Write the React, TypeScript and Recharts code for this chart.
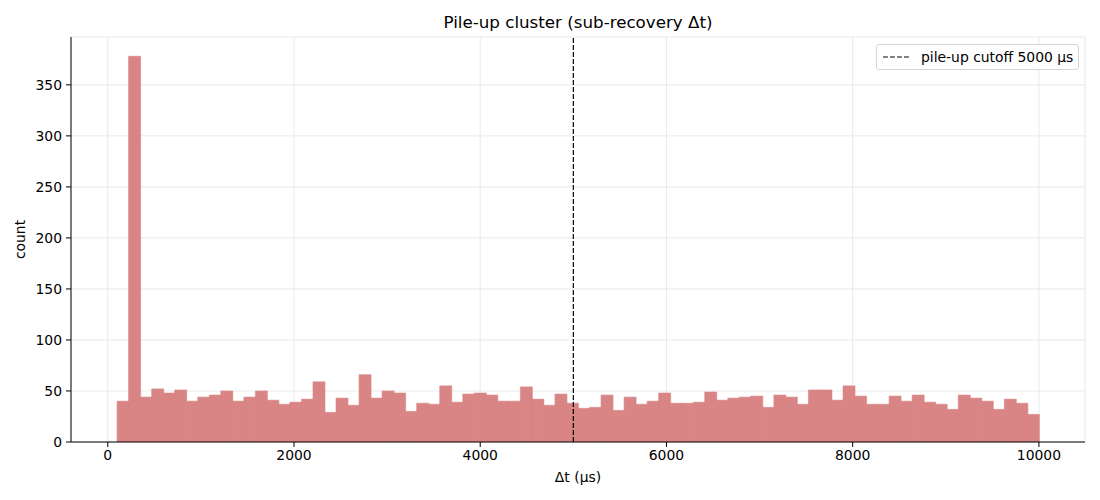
import React from 'react';
import {
  ComposedChart,
  Bar,
  XAxis,
  YAxis,
  CartesianGrid,
  ReferenceLine,
  Legend,
} from 'recharts';

// Histogram bins: 80 bins from 100 µs to 10000 µs
const binStart = 100;
const binWidth = 123.75;

const counts = [
  40, 378, 44, 52, 48, 51, 40, 44, 46, 50,
  40, 44, 50, 41, 37, 39, 42, 59, 29, 43,
  36, 66, 43, 50, 48, 30, 38, 37, 55, 39,
  47, 48, 46, 40, 40, 54, 42, 36, 47, 38,
  33, 34, 46, 31, 44, 37, 40, 48, 38, 38,
  39, 49, 41, 43, 44, 45, 34, 46, 44, 37,
  51, 51, 41, 55, 45, 37, 37, 45, 40, 46,
  39, 37, 32, 46, 43, 40, 32, 42, 38, 27,
];

const xTicks = [0, 2000, 4000, 6000, 8000, 10000];
const yTicks = [0, 50, 100, 150, 200, 250, 300, 350];
const cutoff = 5000;
const legendLabel = 'pile-up cutoff 5000 µs';
const titleText = 'Pile-up cluster (sub-recovery Δt)';

const data = counts.map((c, i) => ({ x: binStart + binWidth * (i + 0.5), count: c }));

const FONT = 'DejaVu Sans, sans-serif';
const FS = 13.9;
const DASH = '4.9 2.1';

const LegendBox = () => (
  <div
    style={{
      border: '1px solid #d6d6d6',
      borderRadius: 3,
      background: 'rgba(255,255,255,0.8)',
      padding: '4px 5px 4px 6px',
      display: 'flex',
      alignItems: 'center',
      fontFamily: FONT,
      fontSize: FS,
      lineHeight: '16px',
      color: '#000',
      whiteSpace: 'nowrap',
    }}
  >
    <svg width={27} height={10} style={{ marginRight: 11 }}>
      <line x1={0} y1={5} x2={27} y2={5} stroke="#000" strokeWidth={1.2} strokeDasharray={DASH} />
    </svg>
    <span>{legendLabel}</span>
  </div>
);

export default function App() {
  return (
    <div style={{ width: 1100, height: 500, position: 'relative', background: '#fff' }}>
      <style>{`body{margin:0}`}</style>
      <div
        style={{
          position: 'absolute',
          top: 12,
          left: 71,
          width: 1014,
          textAlign: 'center',
          fontFamily: FONT,
          fontSize: 16.7,
          lineHeight: '20px',
          color: '#000',
          zIndex: 2,
        }}
      >
        {titleText}
      </div>
      <ComposedChart
        width={1100}
        height={500}
        data={data}
        margin={{ top: 37, right: 15, bottom: 0, left: 0 }}
        barCategoryGap={0}
        barGap={0}
      >
        <CartesianGrid stroke="#e3e3e3" strokeWidth={0.8} />
        <XAxis
          dataKey="x"
          type="number"
          domain={[-395, 10495]}
          ticks={xTicks}
          allowDataOverflow
          height={58}
          tickSize={5}
          tickMargin={3}
          axisLine={{ stroke: '#000', strokeWidth: 1 }}
          tickLine={{ stroke: '#000' }}
          tick={{ fill: '#000', fontSize: FS, fontFamily: FONT }}
          label={{
            value: 'Δt (µs)',
            position: 'insideBottom',
            offset: 18,
            fill: '#000',
            fontSize: FS,
            fontFamily: FONT,
          }}
        />
        <YAxis
          type="number"
          domain={[0, 396.9]}
          ticks={yTicks}
          allowDataOverflow
          width={71}
          tickSize={5}
          tickMargin={4}
          axisLine={{ stroke: '#000', strokeWidth: 1 }}
          tickLine={{ stroke: '#000' }}
          tick={{ fill: '#000', fontSize: FS, fontFamily: FONT }}
          label={{
            value: 'count',
            angle: -90,
            position: 'insideLeft',
            offset: 20,
            fill: '#000',
            fontSize: FS,
            fontFamily: FONT,
            style: { textAnchor: 'middle' },
          }}
        />
        <Bar dataKey="count" fill="#d98585" stroke="#d98585" strokeWidth={0.6} isAnimationActive={false} />
        <ReferenceLine x={cutoff} stroke="#000" strokeWidth={1.2} strokeDasharray={DASH} />
        <Legend
          layout="horizontal"
          align="center"
          verticalAlign="middle"
          content={() => <LegendBox />}
          wrapperStyle={{ position: 'absolute', top: 44, left: 876, width: 'auto', right: 'auto' }}
        />
      </ComposedChart>
    </div>
  );
}
